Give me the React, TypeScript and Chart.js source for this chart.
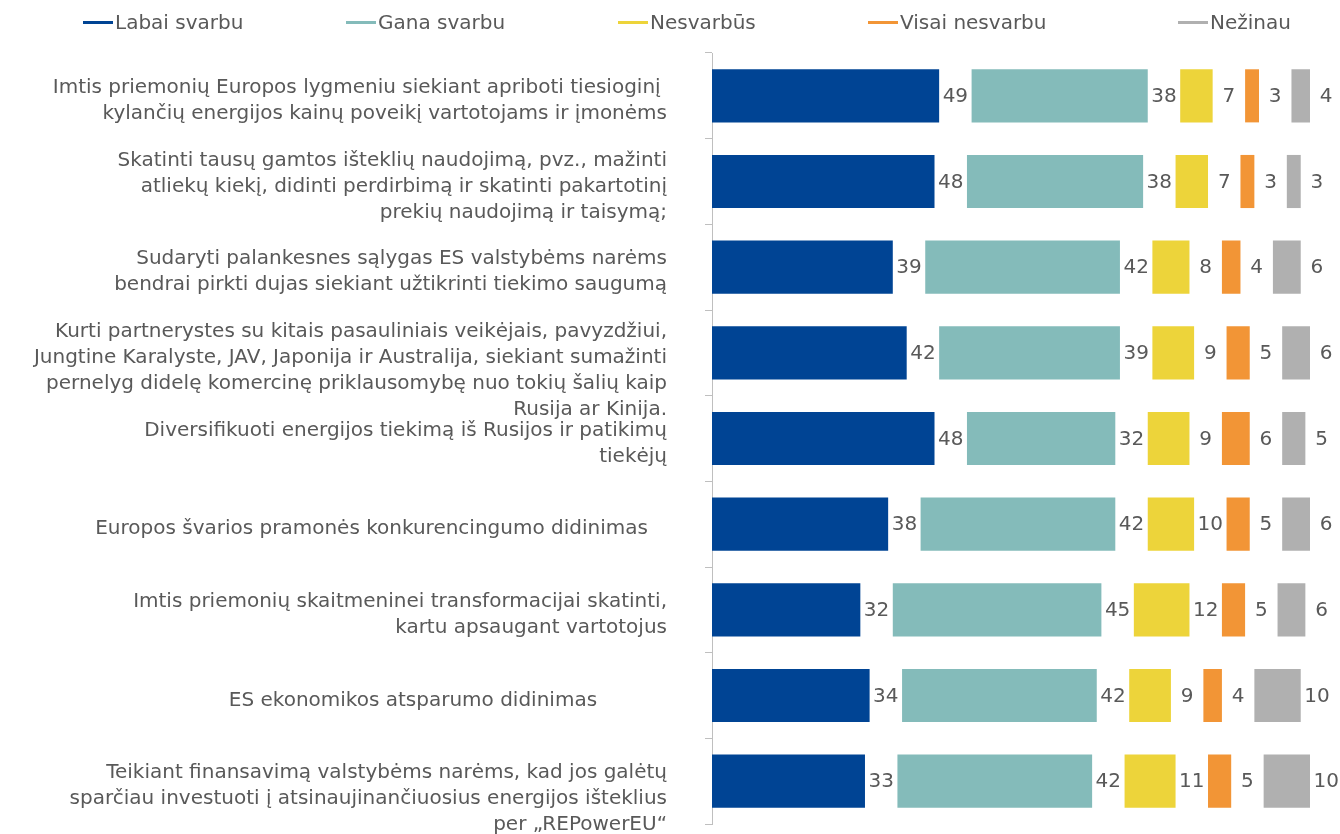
import React, { useEffect, useRef } from "react";
import { Chart, registerables } from "chart.js";

Chart.register(...registerables);

const categories: (string | string[])[] = [
  ["Imtis priemonių Europos lygmeniu siekiant apriboti tiesioginį ", "kylančių energijos kainų poveikį vartotojams ir įmonėms"],
  ["Skatinti tausų gamtos išteklių naudojimą, pvz., mažinti", "atliekų kiekį, didinti perdirbimą ir skatinti pakartotinį", "prekių naudojimą ir taisymą;"],
  ["Sudaryti palankesnes sąlygas ES valstybėms narėms", "bendrai pirkti dujas siekiant užtikrinti tiekimo saugumą"],
  ["", "Kurti partnerystes su kitais pasauliniais veikėjais, pavyzdžiui,", "Jungtine Karalyste, JAV, Japonija ir Australija, siekiant sumažinti", "pernelyg didelę komercinę priklausomybę nuo tokių šalių kaip", "Rusija ar Kinija."],
  ["Diversifikuoti energijos tiekimą iš Rusijos ir patikimų", "tiekėjų"],
  "Europos švarios pramonės konkurencingumo didinimas   ",
  ["Imtis priemonių skaitmeninei transformacijai skatinti,", "kartu apsaugant vartotojus"],
  "ES ekonomikos atsparumo didinimas           ",
  ["", "Teikiant finansavimą valstybėms narėms, kad jos galėtų", "sparčiau investuoti į atsinaujinančiuosius energijos išteklius", "per „REPowerEU“"],
];

const seriesNames = ["Labai svarbu", "Gana svarbu", "Nesvarbūs", "Visai nesvarbu", "Nežinau"];

const labaiSvarbu = [49, 48, 39, 42, 48, 38, 32, 34, 33];
const ganaSvarbu = [38, 38, 42, 39, 32, 42, 45, 42, 42];
const nesvarbus = [7, 7, 8, 9, 9, 10, 12, 9, 11];
const visaiNesvarbu = [3, 3, 4, 5, 6, 5, 5, 4, 5];
const nezinau = [4, 3, 6, 6, 5, 6, 6, 10, 10];

const seriesValues = [labaiSvarbu, ganaSvarbu, nesvarbus, visaiNesvarbu, nezinau];
const colors = ["#004494", "#84BBBA", "#EDD43A", "#F29536", "#B0B0B0"];

// spacer width (in value units) left between segments for the value labels
const GAP = 7;
const X_MAX = 129;

const FONT = "'DejaVu Sans', Verdana, sans-serif";
const FONT_SIZE = 20;
const TEXT_COLOR = "#595959";

const legendLeft = [83, 346, 618, 868, 1178];

export default function App() {
  const ref = useRef<HTMLCanvasElement | null>(null);

  useEffect(() => {
    if (!ref.current) return;
    const datasets: any[] = [];
    seriesValues.forEach((vals, i) => {
      datasets.push({
        label: seriesNames[i],
        data: vals,
        backgroundColor: colors[i],
        borderWidth: 0,
        isValue: true,
      });
      if (i < seriesValues.length - 1) {
        datasets.push({
          label: "spacer" + i,
          data: categories.map(() => GAP),
          backgroundColor: "rgba(0,0,0,0)",
          borderWidth: 0,
          isValue: false,
        });
      }
    });

    const labelPlugin = {
      id: "valueLabels",
      afterDatasetsDraw(chart: any) {
        const ctx = chart.ctx;
        const xs = chart.scales.x;
        const half = xs.getPixelForValue(GAP / 2) - xs.getPixelForValue(0);
        ctx.save();
        ctx.font = `${FONT_SIZE}px ${FONT}`;
        ctx.fillStyle = TEXT_COLOR;
        ctx.textAlign = "center";
        ctx.textBaseline = "middle";
        chart.data.datasets.forEach((ds: any, di: number) => {
          if (!ds.isValue) return;
          const meta = chart.getDatasetMeta(di);
          meta.data.forEach((el: any, j: number) => {
            ctx.fillText(String(ds.data[j]), el.x + half, el.y + 1);
          });
        });
        ctx.restore();
      },
    };

    const chart = new Chart(ref.current, {
      type: "bar",
      data: { labels: categories as any, datasets },
      options: {
        indexAxis: "y",
        animation: false,
        responsive: false,
        devicePixelRatio: 1,
        layout: { padding: { top: 53, bottom: 10, right: 30, left: 0 } },
        plugins: {
          legend: { display: false },
          tooltip: { enabled: false },
        },
        datasets: {
          bar: { categoryPercentage: 1, barPercentage: 0.62 },
        },
        scales: {
          x: {
            stacked: true,
            display: false,
            min: 0,
            max: X_MAX,
          },
          y: {
            stacked: true,
            border: { display: true, color: "#BFBFBF", width: 1 },
            grid: {
              offset: true,
              drawOnChartArea: false,
              drawTicks: true,
              tickLength: 7,
              color: "#BFBFBF",
            },
            ticks: {
              autoSkip: false,
              padding: 38,
              labelOffset: 5,
              color: TEXT_COLOR,
              font: { family: FONT, size: FONT_SIZE, lineHeight: 1.3 },
            },
            afterFit: (scale: any) => {
              scale.width = 712;
              scale.paddingTop = 0;
              scale.paddingBottom = 0;
            },
          },
        },
      } as any,
      plugins: [labelPlugin],
    });
    return () => chart.destroy();
  }, []);

  return (
    <div style={{ position: "fixed", left: 0, top: 0, width: 1340, height: 834, background: "#fff" }}>
      <canvas ref={ref} width={1340} height={834} style={{ position: "absolute", left: 0, top: 0 }} />
      {seriesNames.map((name, i) => (
        <div
          key={name}
          style={{
            position: "absolute",
            left: legendLeft[i],
            top: 10,
            height: 24,
            display: "flex",
            alignItems: "center",
            fontFamily: FONT,
            fontSize: FONT_SIZE,
            color: TEXT_COLOR,
            whiteSpace: "nowrap",
          }}
        >
          <span style={{ display: "inline-block", width: 30, height: 3, background: colors[i], marginRight: 2 }} />
          <span>{name}</span>
        </div>
      ))}
    </div>
  );
}
